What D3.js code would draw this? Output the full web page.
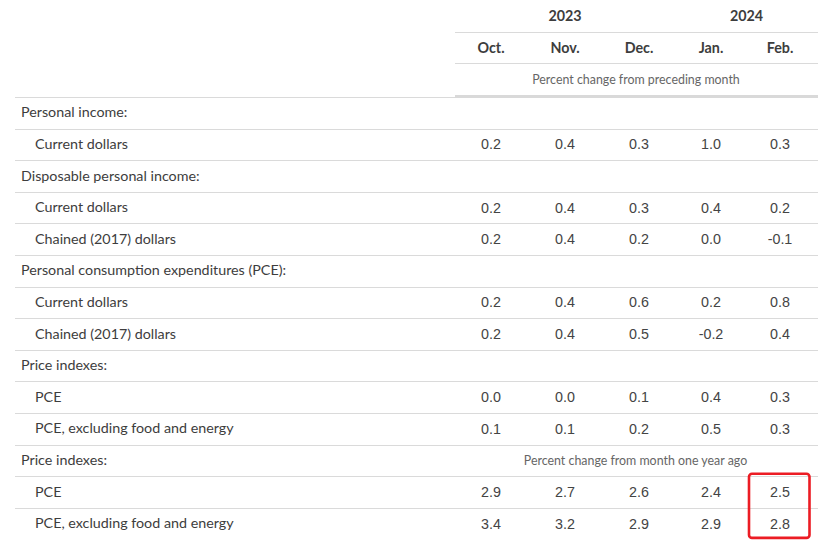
<!DOCTYPE html>
<html><head><meta charset="utf-8">
<script src="https://cdn.jsdelivr.net/npm/d3@7"></script>
<style>body{margin:0;background:#fff}svg{display:block}</style>
</head><body>
<script>
const years = [{label:"2023", from:0, to:2}, {label:"2024", from:3, to:4}];
const months = ["Oct.", "Nov.", "Dec.", "Jan.", "Feb."];
const note1 = "Percent change from preceding month";
const note2 = "Percent change from month one year ago";
const rowLabels = ["Personal income:", "Current dollars", "Disposable personal income:", "Current dollars", "Chained (2017) dollars", "Personal consumption expenditures (PCE):", "Current dollars", "Chained (2017) dollars", "Price indexes:", "PCE", "PCE, excluding food and energy", "Price indexes:", "PCE", "PCE, excluding food and energy"];
const rowIndent = [0,1,0,1,1,0,1,1,0,1,1,0,1,1];
const rowValues = [
  null,
  ["0.2","0.4","0.3","1.0","0.3"],
  null,
  ["0.2","0.4","0.3","0.4","0.2"],
  ["0.2","0.4","0.2","0.0","-0.1"],
  null,
  ["0.2","0.4","0.6","0.2","0.8"],
  ["0.2","0.4","0.5","-0.2","0.4"],
  null,
  ["0.0","0.0","0.1","0.4","0.3"],
  ["0.1","0.1","0.2","0.5","0.3"],
  null,
  ["2.9","2.7","2.6","2.4","2.5"],
  ["3.4","3.2","2.9","2.9","2.8"]
];
const highlightCol = 4, highlightRows = [12, 13];

const W = 825, H = 547;
const svg = d3.select("body").append("svg").attr("width", W).attr("height", H);
const colCenters = [491, 565, 639, 711, 780];
const x = d3.scaleOrdinal().domain(d3.range(5)).range(colCenters);
const y = d3.scaleLinear().domain([0, 14]).range([97, 539.4]);
const lineColor = "#dadada";
const labelFont = "Lato, 'Open Sans', sans-serif";
const numFont = "Arial, 'Liberation Sans', sans-serif";
const textColor = "#3d3d3d";

// header
svg.selectAll("text.year").data(years).join("text")
  .attr("x", d => (x(d.from) + x(d.to)) / 2 + (d.label === "2024" ? 1 : 0))
  .attr("y", 16).attr("dy", "0.35em").attr("text-anchor", "middle")
  .attr("font-family", labelFont).attr("font-weight", "bold").attr("font-size", 14.3)
  .attr("fill", textColor).text(d => d.label);
svg.append("line").attr("x1", 455).attr("x2", 818).attr("y1", 32.5).attr("y2", 32.5).attr("stroke", lineColor);
svg.selectAll("text.month").data(months).join("text")
  .attr("x", (d, i) => x(i)).attr("y", 48).attr("dy", "0.35em").attr("text-anchor", "middle")
  .attr("font-family", labelFont).attr("font-weight", "bold").attr("font-size", 14.3)
  .attr("fill", textColor).text(d => d);
svg.append("line").attr("x1", 455).attr("x2", 818).attr("y1", 63.5).attr("y2", 63.5).attr("stroke", lineColor);
svg.append("text").attr("x", (x(0) + x(4)) / 2 + 0.5).attr("y", 80).attr("dy", "0.35em").attr("text-anchor", "middle")
  .attr("font-family", labelFont).attr("font-size", 12.4).attr("fill", "#666").text(note1);

// row lines
svg.selectAll("line.row").data(d3.range(14)).join("line")
  .attr("x1", 15).attr("x2", 818)
  .attr("y1", i => Math.round(y(i)) + 0.5).attr("y2", i => Math.round(y(i)) + 0.5)
  .attr("stroke", lineColor);
svg.append("rect").attr("x", 455).attr("y", 95).attr("width", 363).attr("height", 3).attr("fill", "#d9d9d9");

// labels
svg.selectAll("text.label").data(rowLabels).join("text")
  .attr("x", (d, i) => rowIndent[i] ? 35 : 21)
  .attr("y", (d, i) => y(i + 0.5) - 0.5).attr("dy", "0.35em")
  .attr("font-family", labelFont).attr("font-size", 14.3).attr("fill", textColor).text(d => d);

// note in row 11
svg.append("text").attr("x", (x(0) + x(4)) / 2).attr("y", y(11.5)).attr("dy", "0.35em").attr("text-anchor", "middle")
  .attr("font-family", labelFont).attr("font-size", 12.4).attr("fill", "#666").text(note2);

// values
const cells = [];
rowValues.forEach((r, i) => { if (r) r.forEach((v, j) => cells.push({row: i, col: j, v})); });
svg.selectAll("text.val").data(cells).join("text")
  .attr("x", d => x(d.col)).attr("y", d => y(d.row + 0.5)).attr("dy", "0.35em").attr("text-anchor", "middle")
  .attr("font-family", numFont).attr("font-size", 14.3).attr("fill", "#444").text(d => d.v);

// highlight box
const r0 = d3.min(highlightRows), r1 = d3.max(highlightRows);
svg.append("rect")
  .attr("x", x(highlightCol) - 31).attr("y", y(r0) - 2.5)
  .attr("width", 60.5).attr("height", y(r1 + 1) - y(r0) + 1)
  .attr("rx", 3).attr("fill", "none").attr("stroke", "#ec1c24").attr("stroke-width", 2.6);
</script>
</body></html>
